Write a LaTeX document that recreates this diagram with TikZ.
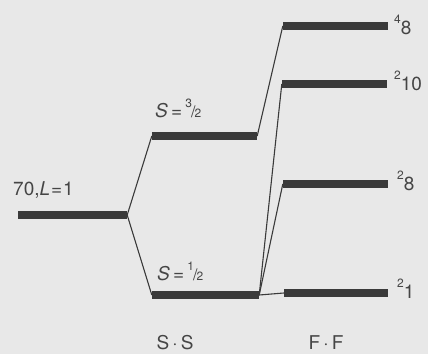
\documentclass[tikz,border=0pt]{standalone}
\usepackage{fontspec}
\setmainfont{TeX Gyre Heros}
\definecolor{bg}{HTML}{E8E8E8}
\definecolor{ink}{HTML}{3A3A3A}
\definecolor{txt}{HTML}{454545}
\newcommand\supr[1]{\raisebox{0.55em}{\fontsize{12}{12}\selectfont #1}}
\newcommand\hfrac[2]{\raisebox{0.5em}{\fontsize{12}{12}\selectfont #1}\kern-0.05em{\fontsize{16}{16}\selectfont/}\kern-0.05em{\fontsize{12}{12}\selectfont #2}}
\begin{document}
\begin{tikzpicture}[x=1pt,y=-1pt,
  bar/.style={fill=ink, draw=none, minimum height=8pt, inner sep=0pt, rectangle},
  link/.style={draw=ink, line width=1.1pt},
  lbl/.style={text=txt, inner sep=0pt, anchor=base west, font=\fontsize{19}{19}\selectfont},
  clbl/.style={text=txt, inner sep=0pt, anchor=base, font=\fontsize{19}{19}\selectfont}]
\fill[bg] (0,0) rectangle (428,354);
\useasboundingbox (0,0) rectangle (428,354);
% levels
\node[bar, minimum width=109pt] (n70) at (72.5,215) {};
\node[bar, minimum width=105pt] (s32) at (204.5,136) {};
\node[bar, minimum width=107pt] (s12) at (205.5,295) {};
\node[bar, minimum width=105pt] (f48) at (335.5,26) {};
\node[bar, minimum width=105pt] (f210) at (334.5,84) {};
\node[bar, minimum width=105pt] (f28) at (335.5,184) {};
\node[bar, minimum width=104pt] (f21) at (336,293) {};
% connectors
\draw[link] (n70.east) -- (s32.west);
\draw[link] (n70.east) -- (s12.west);
\draw[link] (s32.east) -- (f48.west);
\draw[link] (s12.east) -- (f210.west);
\draw[link] (s12.east) -- (f28.west);
\draw[link] (s12.east) -- (f21.west);
% labels
\node[lbl] (l70) at (13,195) {70,\textit{L}\kern0.05em=\kern0.05em1};
\node[lbl] (l32) at (155,117) {\textit{S}\,=\,\hfrac{3}{2}};
\node[lbl] (l12) at (157,280) {\textit{S}\,=\,\hfrac{1}{2}};
\node[lbl] (l48) at (394,34) {\supr{4}8};
\node[lbl] (l210) at (394,90) {\supr{2}10};
\node[lbl] (l28) at (397,190) {\supr{2}8};
\node[lbl] (l21) at (397,298) {\supr{2}1};
\node[clbl] (lss) at (175,349) {S\,·\,S};
\node[clbl] (lff) at (326,349) {F\,·\,F};
\end{tikzpicture}
\end{document}
